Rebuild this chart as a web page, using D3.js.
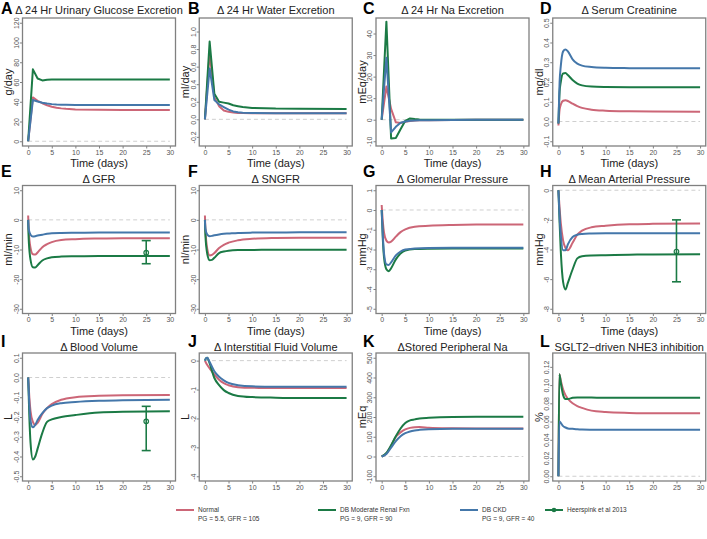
<!DOCTYPE html>
<html><head><meta charset="utf-8">
<script src="https://cdn.jsdelivr.net/npm/d3@7"></script>
<style>
body{margin:0;background:#fff;}
svg{display:block;font-family:"Liberation Sans",Arial,Helvetica,sans-serif;}
</style>
</head><body><svg id="chart" width="707" height="539"></svg>
<script>
// ---------------- DATA ----------------
const xTicks = [0,5,10,15,20,25,30];
const seriesNames = ["Normal","DB Moderate Renal Fxn","DB CKD"];
const seriesSub = ["PG = 5.5, GFR = 105","PG = 9, GFR = 90","PG = 9, GFR = 40"];
const studyName = "Heerspink et al 2013";

// A: 24 hr urinary glucose excretion (daily)
const tA = [0,1,2,3,4,5,6,7,8,10,15,20,30];
const normalA = [0,44.4,41,38.5,36.5,35,34,33.3,32.8,32.2,31.8,31.6,31.6];
const dbA     = [0,72.8,63.5,61.6,62.3,62.5,62.5,62.5,62.5,62.5,62.5,62.5,62.5];
const ckdA    = [0,41.7,40.2,39,38.2,37.6,37.2,37,36.9,36.8,36.7,36.7,36.7];
const yTicksA = [0,20,40,60,80,100,120];

// B: 24 hr water excretion (daily)
const tB = [0,1,2,3,4,5,6,7,8,10,15,20,30];
const normalB = [0,0.76,0.25,0.15,0.1,0.085,0.078,0.073,0.071,0.07,0.069,0.069,0.069];
const dbB     = [0,0.885,0.29,0.2,0.19,0.18,0.16,0.15,0.14,0.13,0.122,0.12,0.118];
const ckdB    = [0,0.58,0.22,0.17,0.14,0.11,0.09,0.08,0.076,0.073,0.07,0.069,0.069];
const yTicksB = [-0.2,0,0.2,0.4,0.6,0.8,1.0];

// C: 24 hr Na excretion (daily)
const tC = [0,1,2,3,4,5,6,7,8,10,15,20,30];
const normalC = [0,15.4,5,-1.2,-1.5,-1,-0.6,-0.4,-0.3,-0.2,-0.1,0,0];
const dbC     = [0,45.5,-8.7,-8.5,-4.4,-0.5,0.6,0.3,0.1,0,0,0,0];
const ckdC    = [0,28.8,-5.9,-3.3,-1.4,-0.8,-0.5,-0.4,-0.3,-0.2,-0.1,0,0];
const yTicksC = [-10,0,10,20,30,40];

// D: serum creatinine
const tD = [0,0.25,0.5,1,1.5,2,3,4,5,7,10,15,20,30];
const normalD = [-0.02,0.06,0.085,0.105,0.108,0.104,0.09,0.078,0.069,0.06,0.055,0.052,0.051,0.05];
const dbD     = [-0.01,0.15,0.2,0.243,0.245,0.235,0.21,0.192,0.183,0.177,0.175,0.174,0.174,0.174];
const ckdD    = [-0.01,0.2,0.28,0.355,0.365,0.355,0.315,0.293,0.283,0.276,0.272,0.27,0.269,0.269];
const yTicksD = [-0.1,0,0.1,0.2,0.3,0.4,0.5];

// E: GFR
const tE = [0,0.1,0.5,1,1.5,2,3,4,5,7,10,15,20,30];
const normalE = [1.5,-3,-9.5,-11.6,-11.7,-11,-9.2,-8.2,-7.5,-6.8,-6.5,-6.3,-6.2,-6.2];
const dbE     = [0,-6,-13.5,-16,-16.1,-15.3,-13.7,-13,-12.6,-12.4,-12.3,-12.2,-12.2,-12.2];
const ckdE    = [0,-3,-5,-5.6,-5.5,-5.3,-5,-4.7,-4.5,-4.4,-4.35,-4.3,-4.3,-4.3];
const yTicksE = [-30,-20,-10,0,10];
const studyE  = {t:25, mean:-11.1, lo:-14.8, hi:-7.0};

// F: SNGFR
const tF = [0,0.1,0.5,1,1.5,2,3,4,5,7,10,15,20,30];
const normalF = [1.5,-3,-9.8,-12,-11.8,-11.2,-9.5,-8.4,-7.7,-6.9,-6.4,-6.1,-6,-6];
const dbF     = [0,-5,-11.5,-13.6,-13.5,-12.8,-11.2,-10.7,-10.4,-10.2,-10.15,-10.1,-10.1,-10.1];
const ckdF    = [0,-3,-5,-5.5,-5.4,-5.2,-4.9,-4.7,-4.6,-4.4,-4.3,-4.25,-4.2,-4.2];
const yTicksF = [-30,-20,-10,0,10];

// G: glomerular pressure
const tG = [0,0.25,0.5,1,1.5,2,3,4,5,7,10,15,20,30];
const normalG = [0.25,-0.6,-1.15,-1.55,-1.64,-1.6,-1.35,-1.12,-0.98,-0.85,-0.8,-0.76,-0.74,-0.73];
const dbG     = [0,-1.5,-2.4,-3.0,-3.1,-2.95,-2.5,-2.2,-2.05,-1.98,-1.96,-1.95,-1.95,-1.95];
const ckdG    = [0,-1.3,-2.2,-2.75,-2.78,-2.65,-2.3,-2.1,-2.0,-1.95,-1.92,-1.91,-1.91,-1.91];
const yTicksG = [-5,-4,-3,-2,-1,0,1];

// H: mean arterial pressure
const tH = [0,0.25,0.5,1,1.5,2,3,4,5,7,10,15,20,30];
const normalH = [0,-1.2,-2.2,-3.4,-3.9,-4.05,-3.55,-3.0,-2.73,-2.5,-2.4,-2.3,-2.27,-2.25];
const dbH     = [0,-2.2,-4.1,-6.2,-6.7,-6.25,-5.35,-4.6,-4.45,-4.4,-4.38,-4.35,-4.33,-4.32];
const ckdH    = [0,-1.8,-3.0,-4.05,-4.05,-3.65,-3.15,-3.0,-2.95,-2.92,-2.9,-2.9,-2.9,-2.9];
const yTicksH = [-8,-6,-4,-2,0];
const studyH  = {t:25, mean:-4.14, lo:-6.18, hi:-2.0};

// I: blood volume
const tI = [0,0.25,0.5,1,1.5,2,3,4,5,7,10,15,20,30];
const normalI = [0,-0.1,-0.17,-0.225,-0.24,-0.23,-0.185,-0.155,-0.135,-0.113,-0.1,-0.093,-0.09,-0.089];
const dbI     = [0,-0.2,-0.33,-0.415,-0.4,-0.36,-0.28,-0.225,-0.212,-0.2,-0.19,-0.177,-0.173,-0.171];
const ckdI    = [0,-0.14,-0.22,-0.252,-0.24,-0.215,-0.18,-0.155,-0.142,-0.13,-0.124,-0.118,-0.115,-0.113];
const yTicksI = [-0.5,-0.4,-0.3,-0.2,-0.1,0,0.1];
const studyI  = {t:25, mean:-0.222, lo:-0.37, hi:-0.146};

// J: interstitial fluid volume
const tJ = [0,0.25,0.5,1,2,3,4,5,7,10,15,20,30];
const normalJ = [0,-0.08,-0.15,-0.27,-0.48,-0.66,-0.78,-0.85,-0.92,-0.94,-0.945,-0.945,-0.945];
const dbJ     = [0,0.08,0.1,-0.1,-0.6,-0.85,-1.02,-1.12,-1.22,-1.26,-1.28,-1.29,-1.29];
const ckdJ    = [0,0.08,0.1,-0.05,-0.37,-0.56,-0.68,-0.77,-0.85,-0.89,-0.9,-0.9,-0.9];
const yTicksJ = [-4,-3,-2,-1,0];

// K: stored peripheral Na
const tK = [0,1,2,3,4,5,6,7,8,10,15,20,30];
const normalK = [0,16,55,100,122,137,145,148.5,149,146,143,142,142];
const dbK     = [0,18,57,103,142,170,183,188,193,196,200,201,201];
const ckdK    = [0,13,45,78,103,118,127,132,135,138.5,141,140.5,140];
const yTicksK = [-100,0,100,200,300,400,500];

// L: SGLT2-driven NHE3 inhibition
const tL = [0,0.2,0.5,1,1.5,2,3,4,5,7,10,15,20,30];
const normalL = [0,0.112,0.105,0.095,0.089,0.085,0.08,0.077,0.075,0.072,0.0705,0.0695,0.069,0.069];
const dbL     = [0,0.112,0.103,0.089,0.0848,0.0848,0.086,0.0865,0.0865,0.0863,0.0862,0.0862,0.0862,0.0862];
const ckdL    = [0,0.06,0.0585,0.055,0.0535,0.0525,0.052,0.0515,0.0512,0.051,0.0509,0.0509,0.0509,0.0509];
const yTicksL = [0,0.02,0.04,0.06,0.08,0.10,0.12];

// ---------------- LAYOUT ----------------
const colors = ["#CC6677","#1B7A45","#4477AA"];
const colLeft = [22.5,199.25,376,552.75], plotW = 153;
const rowTop = [18,185.5,353], plotH = 128;
const titleBase = [14,182.5,350.5];
const letterBase = [13.5,177,346.5];
const letterX = [1,188,363,540];

const panels = [
 {L:"A",title:"Δ 24 Hr Urinary Glucose Excretion",ylab:"g/day",ylim:[0,120],ticks:yTicksA,f:"d",t:tA,s:[normalA,dbA,ckdA],lin:true},
 {L:"B",title:"Δ 24 Hr Water Excretion",ylab:"ml/day",ylim:[-0.25,1.1],ticks:yTicksB,f:".1f",t:tB,s:[normalB,dbB,ckdB],lin:true},
 {L:"C",title:"Δ 24 Hr Na Excretion",ylab:"mEq/day",ylim:[-10,45],ticks:yTicksC,f:"d",t:tC,s:[normalC,dbC,ckdC],lin:true},
 {L:"D",title:"Δ Serum Creatinine",ylab:"mg/dl",ylim:[-0.1,0.5],ticks:yTicksD,f:".1f",t:tD,s:[normalD,dbD,ckdD]},
 {L:"E",title:"Δ GFR",ylab:"ml/min",ylim:[-30,10],ticks:yTicksE,f:"d",t:tE,s:[normalE,dbE,ckdE],study:studyE},
 {L:"F",title:"Δ SNGFR",ylab:"nl/min",ylim:[-30,10],ticks:yTicksF,f:"d",t:tF,s:[normalF,dbF,ckdF]},
 {L:"G",title:"Δ Glomerular Pressure",ylab:"mmHg",ylim:[-5,1],ticks:yTicksG,f:"d",t:tG,s:[normalG,dbG,ckdG]},
 {L:"H",title:"Δ Mean Arterial Pressure",ylab:"mmHg",ylim:[-8,0],ticks:yTicksH,f:"d",t:tH,s:[normalH,dbH,ckdH],study:studyH},
 {L:"I",title:"Δ Blood Volume",ylab:"L",ylim:[-0.5,0.1],ticks:yTicksI,f:".1f",t:tI,s:[normalI,dbI,ckdI],study:studyI},
 {L:"J",title:"Δ Interstitial Fluid Volume",ylab:"L",ylim:[-4,0.1],ticks:yTicksJ,f:"d",t:tJ,s:[normalJ,dbJ,ckdJ]},
 {L:"K",title:"ΔStored Peripheral Na",ylab:"mEq",ylim:[-100,500],ticks:yTicksK,f:"d",t:tK,s:[normalK,dbK,ckdK]},
 {L:"L",title:"SGLT2\u2212driven NHE3 inhibition",ylab:"%",ylim:[0,0.13],ticks:yTicksL,f:".2f",t:tL,s:[normalL,dbL,ckdL]}
];

const svg = d3.select("#chart");
svg.append("rect").attr("width",707).attr("height",539).attr("fill","#fff");
const pad = (a,b)=>{const r=(b-a)*0.04;return [a-r,b+r];};

panels.forEach((p,i)=>{
  const r = Math.floor(i/4), c = i%4;
  const x0 = colLeft[c], y0 = rowTop[r];
  const x = d3.scaleLinear().domain(pad(0,30)).range([x0,x0+plotW]);
  const y = d3.scaleLinear().domain(pad(p.ylim[0],p.ylim[1])).range([y0+plotH,y0]);
  const g = svg.append("g");
  const clipId = "clip"+i;
  g.append("clipPath").attr("id",clipId).append("rect")
    .attr("x",x0).attr("y",y0).attr("width",plotW).attr("height",plotH);

  // zero reference
  g.append("line").attr("x1",x(0)).attr("x2",x(30)).attr("y1",y(0)).attr("y2",y(0))
    .attr("stroke","#cfcfcf").attr("stroke-width",1).attr("stroke-dasharray","4,3");

  // series lines
  const line = d3.line().x(d=>x(d[0])).y(d=>y(d[1]))
    .curve(p.lin ? d3.curveLinear : d3.curveMonotoneX);
  const lg = g.append("g").attr("clip-path",`url(#${clipId})`);
  p.s.forEach((vals,k)=>{
    lg.append("path").datum(p.t.map((t,j)=>[t,vals[j]]))
      .attr("d",line).attr("fill","none").attr("stroke",colors[k])
      .attr("stroke-width",2).attr("stroke-linejoin","round");
  });

  // study error bar
  if(p.study){
    const s=p.study, cx=x(s.t), col=colors[1];
    g.append("line").attr("x1",cx).attr("x2",cx).attr("y1",y(s.lo)).attr("y2",y(s.hi))
      .attr("stroke",col).attr("stroke-width",1.6);
    [s.lo,s.hi].forEach(v=>g.append("line").attr("x1",cx-4.5).attr("x2",cx+4.5)
      .attr("y1",y(v)).attr("y2",y(v)).attr("stroke",col).attr("stroke-width",1.6));
    g.append("circle").attr("cx",cx).attr("cy",y(s.mean)).attr("r",2.3)
      .attr("fill","none").attr("stroke",col).attr("stroke-width",1.2);
  }

  // box
  g.append("rect").attr("x",x0).attr("y",y0).attr("width",plotW).attr("height",plotH)
    .attr("fill","none").attr("stroke","#808080").attr("stroke-width",1.3);

  // axes
  const fmt = v => d3.format(p.f)(v).replace("\u2212","-");
  const xa = g.append("g").attr("transform",`translate(0,${y0+plotH})`)
    .call(d3.axisBottom(x).tickValues(xTicks).tickSize(2.5).tickPadding(1.5).tickFormat(d3.format("d")));
  const ya = g.append("g").attr("transform",`translate(${x0},0)`)
    .call(d3.axisLeft(y).tickValues(p.ticks).tickSize(2.5).tickFormat(fmt));
  [xa,ya].forEach(a=>{
    a.select(".domain").remove();
    a.selectAll(".tick line").attr("stroke","#808080");
    a.selectAll(".tick text").attr("fill","#555").style("font-size","7px")
      .style("font-family","'Liberation Sans',Arial,sans-serif");
  });
  ya.selectAll(".tick text").attr("x",null).attr("dy","0.35em").attr("text-anchor","middle")
    .attr("transform","translate(-6,0) rotate(-90)");

  // x title (bottom row covered by legend)
  if(r<2){
    g.append("text").attr("x",x0+plotW/2).attr("y",y0+plotH+21).attr("text-anchor","middle")
      .attr("fill","#222").style("font-size","11px").text("Time (days)");
  }
  // y title
  g.append("text").attr("transform",`translate(${x0-14},${y0+plotH/2}) rotate(-90)`)
    .attr("dy","0.35em").attr("text-anchor","middle").attr("fill","#222")
    .style("font-size","11px").text(p.ylab);
  // title
  g.append("text").attr("x",x0+plotW/2).attr("y",titleBase[r]).attr("text-anchor","middle")
    .attr("fill","#222").style("font-size","11px").text(p.title);
  // panel letter
  g.append("text").attr("x",letterX[c]).attr("y",letterBase[r]).attr("fill","#000")
    .style("font-size","16px").style("font-weight","bold").text(p.L);
});

// ---------------- LEGEND ----------------
const leg = svg.append("g");
leg.append("rect").attr("x",0).attr("y",496).attr("width",707).attr("height",43).attr("fill","#fff");
const legX = [176,318,460];
seriesNames.forEach((n,k)=>{
  const lx = legX[k];
  leg.append("line").attr("x1",lx).attr("x2",lx+18).attr("y1",510).attr("y2",510)
    .attr("stroke",colors[k]).attr("stroke-width",2);
  leg.append("text").attr("x",lx+22).attr("y",512).attr("fill","#333").style("font-size","6.5px").text(n);
  leg.append("text").attr("x",lx+22).attr("y",521).attr("fill","#333").style("font-size","6.5px").text(seriesSub[k]);
});
const hx = 545;
leg.append("line").attr("x1",hx).attr("x2",hx+18).attr("y1",510).attr("y2",510)
  .attr("stroke",colors[1]).attr("stroke-width",2);
leg.append("circle").attr("cx",hx+9).attr("cy",510).attr("r",2.3).attr("fill",colors[1]);
leg.append("text").attr("x",hx+22).attr("y",512).attr("fill","#333").style("font-size","6.5px").text(studyName);
</script></body></html>
